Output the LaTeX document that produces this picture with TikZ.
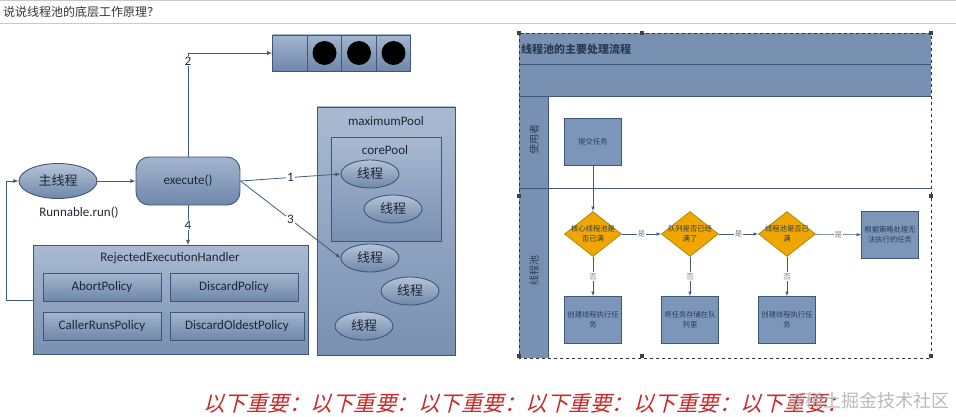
\documentclass[tikz,border=0pt]{standalone}
\usepackage{fontspec}
\setmainfont{Carlito}
\newfontfamily\cjk{Noto Sans CJK SC}
\newfontfamily\cjkslant{Noto Sans CJK SC}[FakeSlant=0.25]
\usetikzlibrary{shapes.geometric}

\definecolor{edge}{HTML}{3E5778}
\definecolor{panetop}{HTML}{A9BAD2}
\definecolor{panebot}{HTML}{7990B2}
\definecolor{boxtop}{HTML}{A3B5CE}
\definecolor{boxbot}{HTML}{6F87AA}
\definecolor{inktext}{HTML}{1E2736}
\definecolor{arrowline}{HTML}{3F5B7E}
\definecolor{lanefill}{HTML}{7891B2}
\definecolor{laneline}{HTML}{3F5677}
\definecolor{flowfill}{HTML}{7C96B9}
\definecolor{flowtext}{HTML}{2C3B55}
\definecolor{gold}{HTML}{EFA700}
\definecolor{goldedge}{HTML}{A8800E}
\definecolor{redtxt}{HTML}{C62A2A}
\definecolor{rulegray}{HTML}{C9CBC9}

\begin{document}
\begin{tikzpicture}[x=1pt, y=-1pt,
    pane/.style = {draw=edge, line width=0.9pt, top color=panetop, bottom color=panebot, inner sep=0pt},
    policy/.style = {draw=edge, line width=0.9pt, top color=boxtop, bottom color=boxbot, minimum height=28pt, inner sep=0pt, font=\fontsize{13}{13}\selectfont, text=inktext},
    cell/.style = {draw=edge, line width=0.9pt, top color=boxtop, bottom color=boxbot, minimum width=34.5pt, minimum height=36pt, inner sep=0pt},
    thread/.style = {ellipse, draw=edge, line width=0.9pt, top color=boxtop!80!white, bottom color=boxbot, minimum width=58pt, minimum height=28pt, inner sep=0pt, font=\cjk\fontsize{13}{13}\selectfont, text=inktext},
    lbl/.style = {inner sep=0pt, font=\fontsize{13}{13}\selectfont, text=inktext},
    arr/.style = {-latex, draw=arrowline, line width=0.8pt},
    num/.style = {fill=white, inner sep=1pt, font=\fontsize{13}{13}\selectfont, text=inktext},
    flowbox/.style = {draw=edge, line width=0.7pt, fill=flowfill, minimum width=57pt, minimum height=47pt, inner sep=1pt, align=center, font=\cjk\fontsize{7.3}{10}\selectfont, text=flowtext},
    choice/.style = {diamond, draw=goldedge, line width=0.7pt, fill=gold, minimum width=57pt, minimum height=45pt, inner sep=0pt},
    choicetxt/.style = {inner sep=0pt, align=center, font=\cjk\fontsize{7.3}{10}\selectfont, text=flowtext},
    flowarr/.style = {-latex, draw=arrowline, line width=0.6pt},
    yn/.style = {fill=white, inner sep=1pt, font=\cjk\fontsize{7.5}{7.5}\selectfont, text=gray},
    lanelbl/.style = {rotate=90, inner sep=0pt, font=\cjk\fontsize{10}{10}\selectfont, text=flowtext}]

    \useasboundingbox (0,0) rectangle (956,417);

    % heading
    \draw[rulegray, line width=1pt] (0,1) -- (956,1);
    \draw[rulegray, line width=1.2pt] (0,23.5) -- (956,23.5);
    \node[anchor=west, inner sep=0pt, font=\cjk\fontsize{12}{12}\selectfont, text=black!80] (head) at (3,12) {说说线程池的底层工作原理？};

    % left: pools
    \node[pane, minimum width=138pt, minimum height=248pt] (maxpool) at (386,231) {};
    \node[lbl] (maxlbl) at (386,121) {maximumPool};
    \node[pane, minimum width=110pt, minimum height=104pt] (corepool) at (386,189) {};
    \node[lbl] (corelbl) at (385,150) {corePool};
    \node[thread] (t1) at (370,174) {线程};
    \node[thread] (t2) at (393,209) {线程};
    \node[thread] (t3) at (370,258) {线程};
    \node[thread] (t4) at (410,291) {线程};
    \node[thread] (t5) at (364,326) {线程};

    % left: handler
    \node[pane, minimum width=275pt, minimum height=109pt] (handler) at (170.5,300) {};
    \node[lbl] (handlerlbl) at (170,258) {RejectedExecutionHandler};
    \node[policy, minimum width=118pt] (abort) at (102,287) {AbortPolicy};
    \node[policy, minimum width=128pt] (discard) at (234,287) {DiscardPolicy};
    \node[policy, minimum width=118pt] (caller) at (102,326) {CallerRunsPolicy};
    \node[policy, minimum width=134pt] (oldest) at (237,326) {DiscardOldestPolicy};

    % left: queue
    \foreach \i/\x in {0/290,1/324.5,2/359,3/393.5}
        \node[cell] (q\i) at (\x,53) {};
    \foreach \i in {1,2,3}
        \node[circle, fill=black, minimum size=24pt, inner sep=0pt] (b\i) at (q\i) {};

    % left: callers
    \node[ellipse, draw=edge, line width=0.9pt, top color=boxtop!80!white, bottom color=boxbot, minimum width=78pt, minimum height=35pt, inner sep=0pt, font=\cjk\fontsize{13}{13}\selectfont, text=inktext] (mainth) at (58,181) {主线程};
    \node[lbl] (runlbl) at (79,213) {Runnable.run()};
    \node[draw=edge, line width=0.9pt, rounded corners=13pt, top color=boxtop, bottom color=boxbot, minimum width=104pt, minimum height=48pt, inner sep=0pt, font=\fontsize{13}{13}\selectfont, text=inktext] (exec) at (188,181) {execute()};
    \coordinate (back) at (6,181);

    \draw[arr] (mainth) -- (exec);
    \draw[arr] (exec.east) -- (t1.west) node[num, midway] {1};
    \draw[arr] (exec.north) |- (q0.west) node[num, pos=0.46] {2};
    \draw[arr] (exec.east) -- (t3.west) node[num, midway] {3};
    \draw[arr] (exec.south) -- (exec.south |- handler.north) node[num, midway] {4};
    \draw[arr] (handler.west) -| (back) -- (mainth.west);

    % right: swimlanes
    \fill[lanefill] (519,33) rectangle (931,96);
    \fill[lanefill] (519,96) rectangle (548,358);
    \draw[laneline, line width=0.8pt] (519,64) -- (931,64);
    \draw[laneline, line width=0.8pt] (519,96) -- (931,96);
    \draw[laneline, line width=0.8pt] (548,96) -- (548,358);
    \draw[laneline, line width=0.8pt] (519,188) -- (931,188);
    \draw[black!80, dashed, line width=0.6pt] (519,33) rectangle (931,358);
    \node[anchor=west, inner sep=0pt, font=\cjk\bfseries\fontsize{11}{11}\selectfont, text=flowtext] (flowtitle) at (521,49) {线程池的主要处理流程};
    \node[lanelbl] (user) at (534,140) {使用者};
    \node[lanelbl] (pool) at (534,270) {线程池};

    % right: flow
    \node[flowbox] (submit) at (593,142) {提交任务};
    \node[choice, label={[choicetxt]center:核心线程池是\\否已满}] (d1) at (593,234) {};
    \node[choice, label={[choicetxt]center:队列是否已经\\满了}] (d2) at (690,234) {};
    \node[choice, label={[choicetxt]center:线程池是否已\\满}] (d3) at (787,234) {};
    \node[flowbox] (reject) at (890,235) {根据策略处理无\\法执行的任务};
    \node[flowbox] (new1) at (593,320) {创建线程执行任\\务};
    \node[flowbox] (store) at (690,320) {将任务存储在队\\列里};
    \node[flowbox] (new2) at (787,320) {创建线程执行任\\务};

    \draw[flowarr] (submit) -- (d1);
    \draw[flowarr] (d1) -- (d2) node[yn, midway] {是};
    \draw[flowarr] (d2) -- (d3) node[yn, midway] {是};
    \draw[flowarr] (d3) -- (reject) node[yn, midway] {是};
    \draw[flowarr] (d1) -- (new1) node[yn, midway] {否};
    \draw[flowarr] (d2) -- (store) node[yn, midway] {否};
    \draw[flowarr] (d3) -- (new2) node[yn, midway] {否};

    \foreach \p in {(519,33),(642,33),(931,33),(519,196),(931,196),(519,356),(642,356),(931,356)}
        \fill[black!75] \p +(-2,-2) rectangle +(2,2);

    % footer
    \node[anchor=west, inner sep=0pt, font=\cjkslant\fontsize{21.5}{21.5}\selectfont, text=redtxt] (warn) at (203,403) {以下重要：以下重要：以下重要：以下重要：以下重要：以下重要：};
    \node[anchor=east, inner sep=0pt, font=\cjk\fontsize{18}{18}\selectfont, text=gray!55] (mark) at (950,401) {@稀土掘金技术社区};
\end{tikzpicture}
\end{document}
